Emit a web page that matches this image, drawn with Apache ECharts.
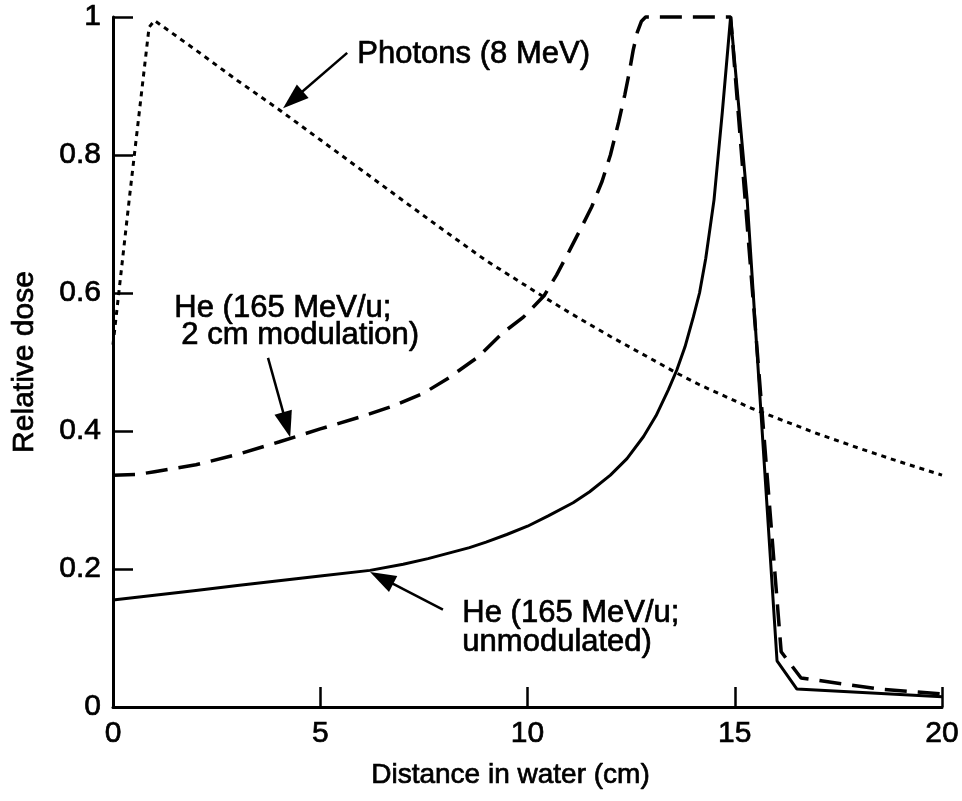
<!DOCTYPE html>
<html>
<head>
<meta charset="utf-8">
<script src="https://cdn.jsdelivr.net/npm/echarts@6/dist/echarts.min.js"></script>
<style>
  html, body { margin: 0; padding: 0; background: #fff; }
  #chart { width: 962px; height: 801px; }
</style>
</head>
<body>
<div id="chart"></div>
<script>
// depth-dose curves, [depth (cm), relative dose]
var photons = [
  [0, 0.525], [0.4, 0.74], [0.87, 0.985], [1.0, 0.995], [2, 0.952], [3, 0.908],
  [4, 0.866], [5, 0.822], [6, 0.778], [7.2, 0.725], [8, 0.69], [9, 0.647],
  [10.4, 0.594], [11, 0.572], [12, 0.537], [13, 0.504], [13.6, 0.484],
  [14.15, 0.467], [15.4, 0.433], [16, 0.419], [17, 0.396], [18, 0.375],
  [19, 0.355], [20, 0.336]
];
var heModulated = [
  [0, 0.336], [0.6, 0.337], [1, 0.341], [2, 0.351], [3, 0.366], [4, 0.384],
  [5, 0.403], [6, 0.421], [6.7, 0.435], [7.5, 0.455], [8.1, 0.477], [8.8, 0.507],
  [9.4, 0.542], [9.9, 0.565], [10.4, 0.596], [10.7, 0.626], [11.0, 0.66],
  [11.3, 0.695], [11.55, 0.725], [11.8, 0.762], [12.0, 0.8], [12.2, 0.848],
  [12.35, 0.888], [12.45, 0.918], [12.55, 0.952], [12.65, 0.978], [12.75, 0.994],
  [12.85, 1.0], [14.9, 1.0], [16.12, 0.08], [16.6, 0.042], [18.5, 0.026],
  [20, 0.019]
];
var heUnmodulated = [
  [0, 0.155], [1, 0.162], [2, 0.169], [3, 0.176], [4, 0.183], [5, 0.19],
  [6.2, 0.198], [7, 0.207], [7.6, 0.215], [8.1, 0.223], [8.6, 0.231], [9, 0.239],
  [9.5, 0.25], [10, 0.262], [10.5, 0.277], [11.1, 0.296], [11.5, 0.312],
  [12, 0.336], [12.4, 0.36], [12.8, 0.392], [13.1, 0.422], [13.4, 0.46],
  [13.6, 0.488], [13.8, 0.522], [14.0, 0.565], [14.15, 0.6], [14.3, 0.65],
  [14.5, 0.735], [14.7, 0.862], [14.9, 1.0], [15.3, 0.735], [16.02, 0.067],
  [16.5, 0.026], [20, 0.015]
];
var xTicks = [0, 5, 10, 15, 20];
var yTicks = [0, 0.2, 0.4, 0.6, 0.8, 1];

// arrows: [from, to] in data coordinates
var arrows = [
  [[5.65, 0.948], [4.34, 0.88]],
  [[3.74, 0.506], [4.19, 0.409]],
  [[7.96, 0.141], [6.48, 0.187]]
];

var FONT = '"Liberation Sans", Arial, Helvetica, sans-serif';
var chart = echarts.init(document.getElementById('chart'));

function axisBase(nameSize) {
  return {
    axisLine: { show: true, lineStyle: { color: '#000', width: 3 } },
    axisTick: { show: true, inside: true, length: 20, lineStyle: { color: '#000', width: 2.5 } },
    splitLine: { show: false },
    axisLabel: {
      color: '#000', fontSize: 30, fontFamily: FONT,
      textBorderColor: '#000', textBorderWidth: 0.7
    },
    nameMoveOverlap: false,
    nameTextStyle: {
      color: '#000', fontSize: nameSize, fontFamily: FONT,
      textBorderColor: '#000', textBorderWidth: 0.7
    }
  };
}

var xAxis = Object.assign(axisBase(28), {
  type: 'value',
  min: xTicks[0],
  max: xTicks[xTicks.length - 1],
  interval: 5,
  name: 'Distance in water (cm)',
  nameLocation: 'middle',
  nameGap: 54
});
xAxis.axisLabel.margin = 12;
xAxis.nameTextStyle.padding = [0, 34, 0, 0];

var yAxis = Object.assign(axisBase(30), {
  type: 'value',
  min: yTicks[0],
  max: yTicks[yTicks.length - 1],
  interval: 0.2,
  name: 'Relative dose',
  nameLocation: 'middle',
  nameGap: 73
});
yAxis.axisLabel.margin = 12;

var arrowLines = arrows.map(function (a) {
  return [{ coord: a[0], symbol: 'none' }, { coord: a[1], symbol: 'triangle' }];
});

function note(text, left, top) {
  return {
    type: 'text', left: left, top: top,
    style: { text: text, font: '31px ' + FONT, fill: '#000', stroke: '#000', lineWidth: 0.7 }
  };
}

chart.setOption({
  animation: false,
  backgroundColor: '#fff',
  grid: { left: 113, right: 20, top: 17, bottom: 94, outerBoundsMode: 'none' },
  xAxis: xAxis,
  yAxis: yAxis,
  series: [
    {
      name: 'Photons (8 MeV)',
      type: 'line',
      data: photons,
      showSymbol: false,
      clip: false,
      lineStyle: { color: '#000', width: 3, type: [5, 5] },
      markLine: {
        silent: true,
        animation: false,
        symbolSize: [18, 26],
        label: { show: false },
        lineStyle: { color: '#000', width: 2.5, type: 'solid' },
        data: arrowLines
      }
    },
    {
      name: 'He (165 MeV/u; 2 cm modulation)',
      type: 'line',
      data: heModulated,
      showSymbol: false,
      clip: false,
      lineStyle: { color: '#000', width: 3.5, type: [22, 11] }
    },
    {
      name: 'He (165 MeV/u; unmodulated)',
      type: 'line',
      data: heUnmodulated,
      showSymbol: false,
      clip: false,
      lineStyle: { color: '#000', width: 3 }
    }
  ],
  graphic: [
    note('Photons (8 MeV)', 357, 39),
    note('He (165 MeV/u;', 174, 293),
    note('2 cm modulation)', 181, 320),
    note('He (165 MeV/u;', 462, 598),
    note('unmodulated)', 462, 627)
  ]
});
</script>
</body>
</html>
